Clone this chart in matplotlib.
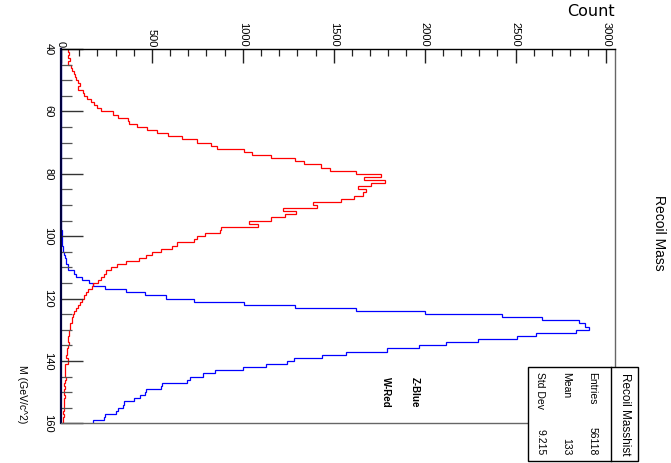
import numpy as np
import matplotlib
matplotlib.use("Agg")
import matplotlib.pyplot as plt
from matplotlib.ticker import FixedLocator, MultipleLocator
from matplotlib.patches import Rectangle
from matplotlib.lines import Line2D
from matplotlib import font_manager

# Histogram binning: 120 bins of 1 GeV between 40 and 160 GeV
mass_low = 40
mass_high = 160
n_bins = 120

# W recoil-mass histogram (red), counts per bin
w_counts = [
    37, 44, 40, 48, 37, 55, 62, 70, 77, 84,
    95, 104, 92, 121, 128, 145, 165, 183, 200, 218,
    288, 315, 367, 374, 416, 471, 526, 590, 664, 746,
    823, 856, 1006, 1048, 1155, 1287, 1338, 1428, 1481, 1622,
    1760, 1668, 1782, 1705, 1635, 1676, 1660, 1612, 1540, 1385,
    1406, 1223, 1292, 1230, 1153, 1034, 1083, 880, 875, 794,
    746, 731, 640, 609, 550, 499, 466, 429, 356, 310,
    275, 246, 238, 218, 205, 174, 169, 147, 136, 128,
    114, 104, 92, 84, 71, 66, 62, 59, 52, 48,
    42, 46, 40, 38, 42, 36, 33, 35, 30, 36,
    40, 24, 22, 24, 20, 26, 20, 18, 22, 16,
    18, 20, 15, 17, 14, 16, 13, 15, 12, 13,
]

# Z recoil-mass histogram (blue), counts per bin
z_counts = [
    0, 0, 0, 0, 0, 0, 0, 0, 0, 0,
    0, 0, 0, 0, 0, 0, 0, 0, 0, 0,
    0, 0, 0, 0, 0, 0, 0, 0, 0, 0,
    0, 0, 0, 0, 0, 0, 0, 0, 0, 0,
    0, 0, 0, 0, 0, 0, 0, 0, 0, 0,
    0, 0, 0, 0, 0, 1, 1, 2, 3, 3,
    4, 5, 6, 9, 12, 16, 20, 25, 30, 36,
    38, 74, 80, 114, 156, 178, 243, 356, 460, 579,
    730, 1006, 1286, 1622, 2000, 2425, 2643, 2847, 2881, 2904,
    2831, 2613, 2508, 2296, 2117, 1969, 1795, 1565, 1435, 1280,
    1245, 1126, 1000, 845, 781, 708, 693, 556, 550, 466,
    460, 434, 401, 346, 340, 315, 300, 240, 236, 178,
]

count_ticks = [0, 500, 1000, 1500, 2000, 2500, 3000]
count_tick_labels = ["0", "500", "1000", "1500", "2000", "2500", "3000"]
mass_ticks = [40, 60, 80, 100, 120, 140, 160]
mass_tick_labels = ["40", "60", "80", "100", "120", "140", "160"]

stats_rows = ["Entries", "Mean", "Std Dev"]
stats_values = ["56118", "133", "9.215"]

installed = {f.name for f in font_manager.fontManager.ttflist}
narrow = "Liberation Sans Narrow" if "Liberation Sans Narrow" in installed else "Liberation Sans"

W, H = 671, 463
fig = plt.figure(figsize=(W / 100, H / 100), dpi=100)
fig.patch.set_facecolor("white")


def fx(px):
    return px / W


def fy(py):
    return 1 - py / H


ax = fig.add_axes([fx(61), fy(423.3), fx(615) - fx(61), fy(49) - fy(423.3)])

edges = np.linspace(mass_low, mass_high, n_bins + 1)
ax.stairs(z_counts, edges, orientation="horizontal", baseline=None,
          color="#0000ff", linewidth=0.9)
ax.stairs(w_counts, edges, orientation="horizontal", baseline=None,
          color="#ff0000", linewidth=0.9)

ax.set_xlim(0, 3047)
ax.set_ylim(mass_high, mass_low)

# Count axis along the top
ax.xaxis.tick_top()
ax.xaxis.set_major_locator(FixedLocator(count_ticks))
ax.xaxis.set_minor_locator(MultipleLocator(100))
ax.set_xticklabels(count_tick_labels, rotation=-90, fontsize=8, family=narrow)
ax.tick_params(axis="x", which="major", direction="in", length=10, width=1,
               pad=1.4, color="#222222", top=True, bottom=False,
               labeltop=True, labelbottom=False)
ax.tick_params(axis="x", which="minor", direction="in", length=5, width=0.9,
               color="#222222", top=True, bottom=False)

# Mass axis along the left
ax.yaxis.set_major_locator(FixedLocator(mass_ticks))
ax.yaxis.set_minor_locator(MultipleLocator(5))
ax.set_yticklabels(mass_tick_labels, rotation=-90, va="center",
                   fontsize=8, family=narrow)
ax.tick_params(axis="y", which="major", direction="in", length=16, width=1,
               pad=5.5, color="#333333", left=True, right=False)
ax.tick_params(axis="y", which="minor", direction="in", length=8, width=0.9,
               color="#555555", left=True, right=False)

ax.spines["top"].set_color("black")
ax.spines["top"].set_linewidth(1.0)
ax.spines["left"].set_color("#000040")
ax.spines["left"].set_linewidth(1.6)
for side in ("right", "bottom"):
    ax.spines[side].set_color("#666666")
    ax.spines[side].set_linewidth(1.0)

# Legend-like labels inside the frame
ax.text(1944, 145.2, "Z-Blue", rotation=-90, ha="center", va="top",
        fontsize=7, fontweight="bold", family=narrow)
ax.text(1787, 145.2, "W-Red", rotation=-90, ha="center", va="top",
        fontsize=7, fontweight="bold", family=narrow)

# Titles
fig.text(fx(659), fy(233), "Recoil Mass", rotation=-90, ha="center",
         va="center", fontsize=10, family=narrow)
fig.text(fx(615), fy(11), "Count", ha="right", va="center",
         fontsize=11.5, family="DejaVu Sans")
fig.text(fx(22), fy(423), "M (GeV/c^2)", rotation=-90, ha="center",
         va="bottom", fontsize=7.5, family=narrow)

# Statistics box
box = Rectangle((fx(527.5), fy(461)), fx(638.3) - fx(527.5), fy(367) - fy(461),
                transform=fig.transFigure, facecolor="white",
                edgecolor="black", linewidth=1.0, zorder=10)
fig.add_artist(box)
fig.add_artist(Line2D([fx(611), fx(611)], [fy(367), fy(461)],
                      transform=fig.transFigure, color="black",
                      linewidth=1.0, zorder=11))
fig.text(fx(624.5), fy(414), "Recoil Masshist", rotation=-90, ha="center",
         va="center", fontsize=8.5, family=narrow, zorder=12)
row_x = [592.5, 566.5, 540.0]
for name, value, px in zip(stats_rows, stats_values, row_x):
    fig.text(fx(px), fy(372), name, rotation=-90, ha="center", va="top",
             fontsize=7.5, family=narrow, zorder=12)
    fig.text(fx(px), fy(455), value, rotation=-90, ha="center", va="bottom",
             fontsize=7.5, family=narrow, zorder=12)

fig.savefig("out.png", dpi=100, facecolor="white")
